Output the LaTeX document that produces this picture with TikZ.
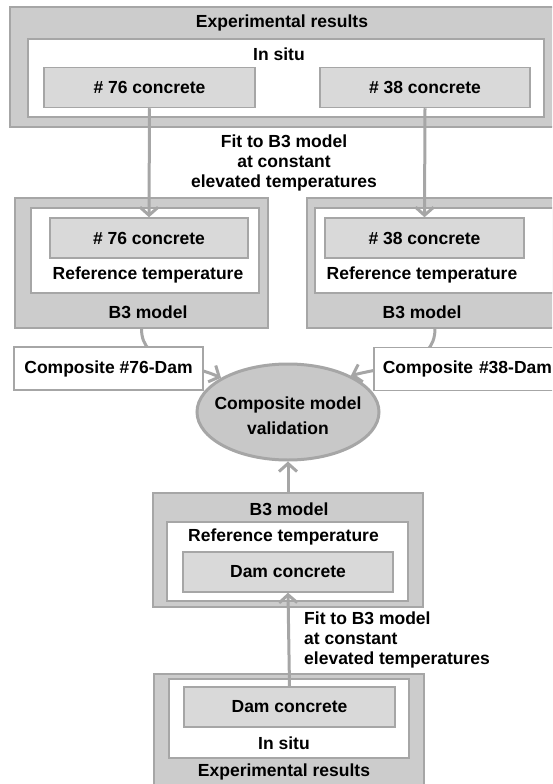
\documentclass[tikz,border=0pt]{standalone}
\usepackage{fontspec}
\setmainfont{Liberation Sans}
\usetikzlibrary{arrows.meta,shapes.geometric}
\definecolor{framegray}{HTML}{A6A6A6}
\definecolor{panelgray}{HTML}{CCCCCC}
\definecolor{cellgray}{HTML}{D9D9D9}
\definecolor{ovalgray}{HTML}{C8C8C8}
\tikzset{
	flow/.style={x=1pt,y=-1pt,font=\bfseries\fontsize{17.5}{20}\selectfont},
	panel/.style={rectangle,draw=framegray,fill=panelgray,line width=1.5pt,inner sep=0pt},
	sheet/.style={rectangle,draw=framegray,fill=white,line width=1.5pt,inner sep=0pt},
	cell/.style={rectangle,draw=framegray,fill=cellgray,line width=1.5pt,inner sep=0pt,minimum height=40},
	tag/.style={inner sep=0pt},
	label box/.style={rectangle,draw=framegray,fill=white,line width=1.5pt,minimum height=43},
	check/.style={ellipse,draw=framegray,fill=ovalgray,line width=3pt,minimum width=182,
		minimum height=96,inner sep=0pt},
	feed/.style={draw=framegray,line width=3pt,-{Straight Barb[length=8pt,width=18pt]}}
}

\begin{document}
\begin{tikzpicture}[flow]
	\clip (0,0) rectangle (552,784);
	
	% measured results, top
	\node[panel, minimum width=552, minimum height=120] (res) at (286,67) {};
	\node[sheet, minimum width=516, minimum height=78] (situ) at (286,78) {};
	\node[tag] at (282,23) {Experimental results};
	\node[tag] at (279,54) {In situ};
	\node[cell, minimum width=211] (c76) at (149.5,87.5) {\# 76 concrete};
	\node[cell, minimum width=210] (c38) at (425,87.5) {\# 38 concrete};
	
	\node[tag, align=center] (fit) at (284,163) {Fit to B3 model\\at constant\\elevated temperatures};
	
	% B3 model of the two concretes
	\node[panel, minimum width=253, minimum height=130] (b3left) at (141.5,263) {};
	\node[sheet, minimum width=228, minimum height=85] (ref76) at (145,250.5) {};
	\node[cell, minimum width=198] (m76) at (149,238) {\# 76 concrete};
	\node[tag] at (148,275) {Reference temperature};
	\node[tag] at (148,312) {B3 model};
	
	\node[panel, minimum width=256, minimum height=130] (b3right) at (435,263) {};
	\node[sheet, minimum width=240, minimum height=85] (ref38) at (435,250.5) {};
	\node[cell, minimum width=199] (m38) at (424.5,238) {\# 38 concrete};
	\node[tag] at (422,275) {Reference temperature};
	\node[tag] at (422,312) {B3 model};
	
	\node[check] (check) at (288,412) {};
	\node[tag, align=center] at (288,416) {Composite model\\[5pt]validation};
	
	% dam concrete, bottom
	\node[panel, minimum width=270, minimum height=114] (b3dam) at (288,550) {};
	\node[sheet, minimum width=241, minimum height=79] (refdam) at (287.5,561.5) {};
	\node[tag] at (289,509) {B3 model};
	\node[tag] at (283.5,537) {Reference temperature};
	\node[cell, minimum width=210] (mdam) at (288,572) {Dam concrete};
	
	\node[tag, align=left, anchor=west] (fitdam) at (304,640) {Fit to B3 model\\at constant\\elevated temperatures};
	
	\node[panel, minimum width=270, minimum height=126] (resdam) at (289,737) {};
	\node[sheet, minimum width=240, minimum height=79] (situdam) at (289,718.5) {};
	\node[cell, minimum width=211] (cdam) at (289.5,707) {Dam concrete};
	\node[tag] at (284,743) {In situ};
	\node[tag] at (284,772) {Experimental results};
	
	\draw[feed] (c76.south) -- (m76.north);
	\draw[feed] (c38.south) -- (m38.north);
	\draw[feed] (b3left.south) to[out=-90,in=155] (check.153);
	\draw[feed] (b3right.south) to[out=-90,in=15] (check.30);
	\draw[feed] (b3dam.north) -- (check.south);
	\draw[feed] (cdam.north) -- (mdam.south);
	
	\node[label box, minimum width=189] (cmp76) at (108.5,368.5) {Composite \#76-Dam};
	\node[label box, anchor=west, text width=190, align=left, inner xsep=9pt] (cmp38) at (373,369) {Composite \#38-Dam};
\end{tikzpicture}
\end{document}
